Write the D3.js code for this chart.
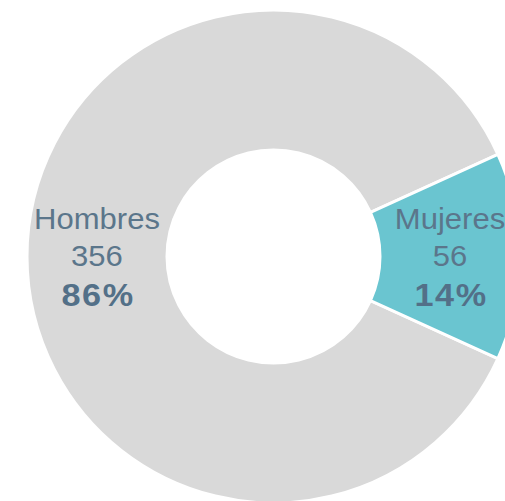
<!DOCTYPE html>
<html>
<head>
<meta charset="utf-8">
<script src="https://d3js.org/d3.v7.min.js"></script>
<style>
  body { margin: 0; background: #fff; }
  svg { display: block; }
</style>
</head>
<body>
<div id="chart"></div>
<script>
var categories = ["Hombres", "Mujeres"];
var counts = [356, 56];
var percents = ["86%", "14%"];

var width = 505, height = 501;
var cx = 273.5, cy = 256.5,
    outerR = 246.5, innerR = 106.5;

var colors = d3.scaleOrdinal()
    .domain(categories)
    .range(["#d9d9d9", "#6ac5d0"]);

var data = categories.map(function(c, i) {
  return {name: c, value: counts[i], pct: percents[i]};
});

var total = d3.sum(counts);
// put Mujeres centred at 3 o'clock
var start = Math.PI / 2 + Math.PI * counts[1] / total;

var pie = d3.pie()
    .sort(null)
    .value(function(d) { return d.value; })
    .startAngle(start)
    .endAngle(start + 2 * Math.PI);

var arc = d3.arc().innerRadius(innerR).outerRadius(outerR);

var svg = d3.select("#chart")
    .append("svg")
    .attr("width", width)
    .attr("height", height);

var g = svg.append("g")
    .attr("transform", `translate(${cx},${cy})`);

var slices = g.selectAll("g.slice")
    .data(pie(data))
    .join("g")
    .attr("class", "slice");

slices.append("path")
    .attr("d", arc)
    .attr("fill", d => colors(d.data.name))
    .attr("stroke", "#fff")
    .attr("stroke-width", 3);

// labels look a bit wide in the original, so stretch them slightly
var labels = slices.append("text")
    .attr("transform", d => `translate(${arc.centroid(d)}) scale(1.07,1)`)
    .attr("text-anchor", "middle")
    .attr("font-family", "'Liberation Sans', Arial, sans-serif")
    .attr("fill", "#5b768b");

labels.append("tspan")
    .attr("x", 0).attr("y", -28)
    .attr("font-size", 29)
    .text(d => d.data.name);

labels.append("tspan")
    .attr("x", 0).attr("y", 9)
    .attr("font-size", 29)
    .text(d => d.data.value);

labels.append("tspan")
    .attr("x", 1).attr("y", 50)
    .attr("font-size", 32)
    .attr("font-weight", "bold")
    .attr("letter-spacing", 1.5)
    .attr("fill", "#537088")
    .text(d => d.data.pct);
</script>
</body>
</html>
